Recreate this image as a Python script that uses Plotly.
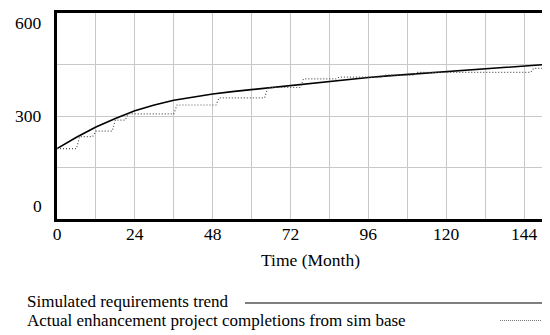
import plotly.graph_objects as go

# ---- data ----
sim_months = [0, 6, 12, 18, 24, 30, 36, 42, 48, 54, 60, 66, 72, 78, 84, 90,
              96, 102, 108, 114, 120, 126, 132, 138, 144, 150, 152]
sim_values = [205, 238, 268, 293, 315, 332, 346, 356, 364, 371, 377, 383, 388,
              395, 402, 407, 412, 417, 421, 425, 430, 435, 439, 443, 447, 450, 451]

act_months = [0, 6, 7, 11, 12, 17, 18, 21, 22, 36, 37, 49, 50, 64, 65, 75, 76,
              86, 87, 100, 101, 110, 111, 146, 147, 152]
act_values = [205, 205, 240, 240, 256, 256, 288, 288, 306, 306, 332, 332, 353,
              353, 383, 383, 408, 408, 413, 413, 419, 419, 427, 427, 439, 439]

x_ticks = [0, 24, 48, 72, 96, 120, 144]
y_ticks = [0, 300, 600]
x_title = "Time (Month)"
series_names = ["Simulated requirements trend",
                "Actual enhancement project completions from sim base"]

FONT = "Liberation Serif, Times New Roman, serif"
FS = 17.5
FS_LEG = 17

# plot area in page pixels (reference): left 57, right 550, top 13, bottom 219
PL, PR, PT, PB = 57, 550, 13, 219
W, H = PR - PL, PB - PT


def px(xp):
    return (xp - PL) / W


def py(yp):
    return (PB - yp) / H


fig = go.Figure()
fig.add_trace(go.Scatter(x=sim_months, y=sim_values, mode="lines",
                         line=dict(color="black", width=1.6),
                         name=series_names[0], showlegend=False))
fig.add_trace(go.Scatter(x=act_months, y=act_values, mode="lines",
                         line=dict(color="#555555", width=1.2, dash="1px,2px"),
                         name=series_names[1], showlegend=False))

# page body has an 8px margin, so the figure is offset by 8px
fig.update_layout(
    width=542, height=327,
    margin=dict(l=PL - 8, r=0, t=PT - 8, b=327 - (PB - 8)),
    paper_bgcolor="white", plot_bgcolor="white",
    font=dict(family=FONT, size=FS, color="black"),
    showlegend=False,
)
fig.update_xaxes(
    range=[0, 152], tickvals=x_ticks, ticks="", showgrid=True,
    gridcolor="#c8c8c8", gridwidth=1,
    minor=dict(dtick=12, tick0=0, showgrid=True, gridcolor="#c8c8c8", gridwidth=1),
    showline=True, linecolor="black", linewidth=2.5, mirror=True,
    zeroline=False, tickfont=dict(family=FONT, size=FS), ticklabelstandoff=-3,
)
fig.update_yaxes(
    range=[0, 600], tickvals=y_ticks, showticklabels=False, ticks="",
    showgrid=True, gridcolor="#c8c8c8", gridwidth=1,
    minor=dict(dtick=150, tick0=0, showgrid=True, gridcolor="#c8c8c8", gridwidth=1),
    showline=True, linecolor="black", linewidth=3, zeroline=False,
)

# y tick labels placed inside the range like the reference
anchors = {0: "bottom", 300: "middle", 600: "top"}
shifts = {0: 1, 300: 0, 600: 2}
for v in y_ticks:
    fig.add_annotation(x=px(44), xref="paper", y=v, yref="y", text=str(v),
                       showarrow=False, xanchor="right", yanchor=anchors[v],
                       yshift=shifts[v], font=dict(family=FONT, size=FS))

# axis title
fig.add_annotation(x=px(310), xref="paper", y=py(260), yref="paper",
                   text=x_title, showarrow=False, xanchor="center",
                   yanchor="middle", font=dict(family=FONT, size=FS))

# legend (text on the left, line sample on the right)
fig.add_annotation(x=px(25), xref="paper", y=py(301.5), yref="paper",
                   text=series_names[0], showarrow=False,
                   xanchor="left", yanchor="middle", font=dict(family=FONT, size=FS_LEG))
fig.add_annotation(x=px(25), xref="paper", y=py(320.5), yref="paper",
                   text=series_names[1], showarrow=False,
                   xanchor="left", yanchor="middle", font=dict(family=FONT, size=FS_LEG))
fig.add_shape(type="line", xref="paper", yref="paper",
              x0=px(245), x1=1, y0=py(303), y1=py(303),
              line=dict(color="black", width=1.2))
fig.add_shape(type="line", xref="paper", yref="paper",
              x0=px(500), x1=1, y0=py(320.5), y1=py(320.5),
              line=dict(color="#777777", width=1, dash="1px,1px"))

fig.write_html("out.html")
